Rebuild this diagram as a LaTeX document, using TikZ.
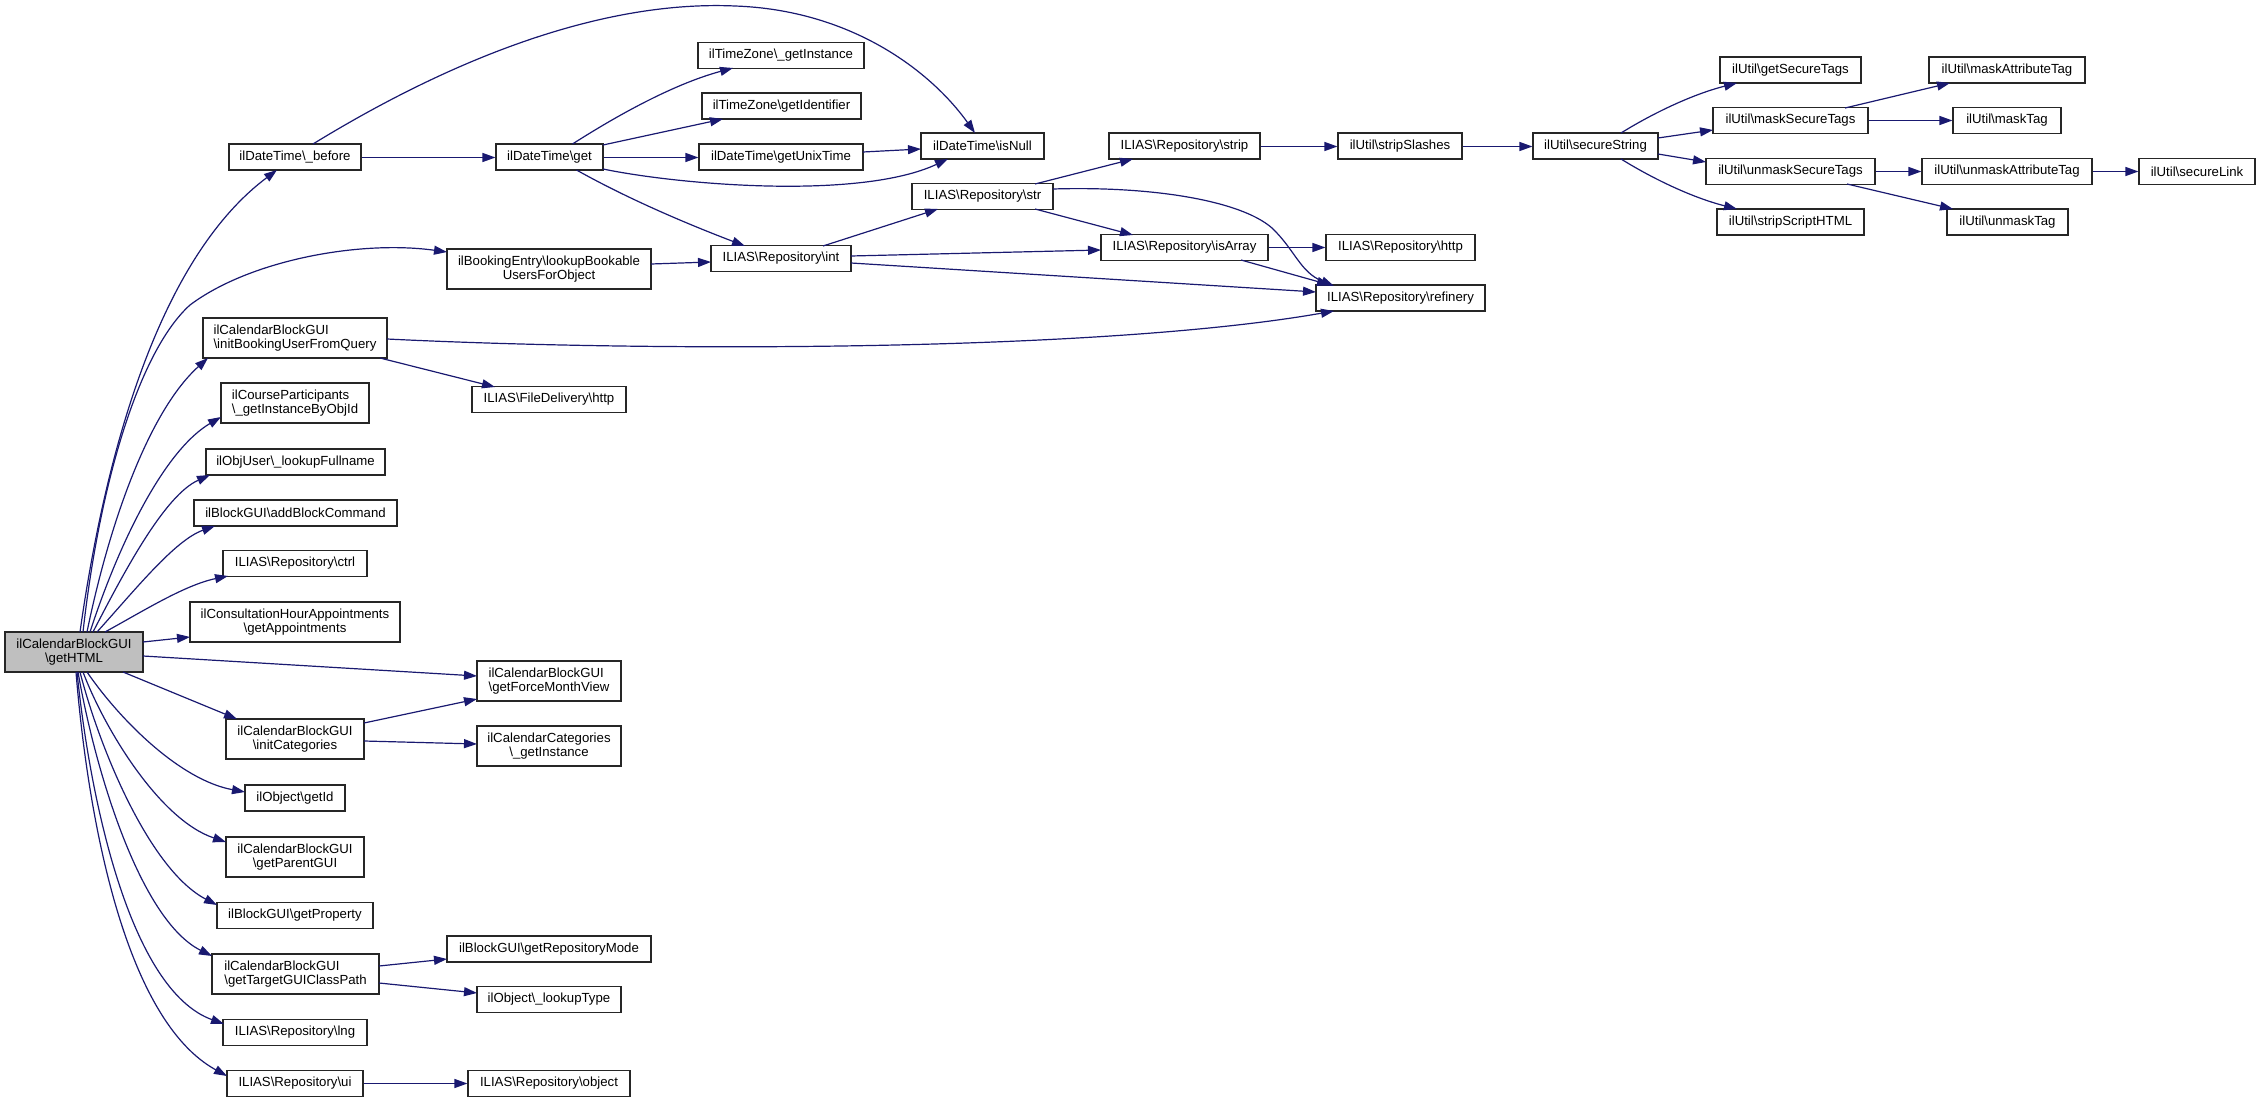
\documentclass[tikz,border=0pt]{standalone}
\usepackage{fontspec}
\setmainfont{Liberation Sans}
\usetikzlibrary{arrows.meta}
\definecolor{edgec}{HTML}{191970}
\definecolor{rootfill}{HTML}{BFBFBF}
\def\mybs{\textbackslash{}}
\begin{document}
\begin{tikzpicture}[x=1pt,y=-1pt,
  box/.style={draw=black!85, line width=1.1pt, inner sep=0pt, fill=white,
    font=\fontsize{13.2}{14}\selectfont, text=black, minimum height=26pt},
  dbl/.style={minimum height=40pt},
  edge/.style={draw=edgec, line width=1.2pt, -{Triangle[length=13pt,width=9pt]}}]
\useasboundingbox (0,0) rectangle (2260,1102);

% left column
\node[box,dbl,fill=rootfill,align=center,minimum width=138pt] (root) at (74,652) {ilCalendarBlockGUI\\\mybs getHTML};
\node[box,minimum width=132pt] (before) at (295,157) {ilDateTime\mybs\_before};
\node[box,dbl,align=left,minimum width=184pt] (initBU) at (295,338) {ilCalendarBlockGUI\\\mybs initBookingUserFromQuery};
\node[box,dbl,align=left,minimum width=148pt] (course) at (295,403) {ilCourseParticipants\\\mybs\_getInstanceByObjId};
\node[box,minimum width=179pt] (objuser) at (295.5,462) {ilObjUser\mybs\_lookupFullname};
\node[box,minimum width=203pt] (addblock) at (295.5,513) {ilBlockGUI\mybs addBlockCommand};
\node[box,minimum width=144pt] (ctrl) at (295,563.5) {ILIAS\mybs Repository\mybs ctrl};
\node[box,dbl,align=center,minimum width=210pt] (consult) at (295,622) {ilConsultationHourAppointments\\\mybs getAppointments};
\node[box,dbl,align=center,minimum width=138pt] (initcat) at (295,739) {ilCalendarBlockGUI\\\mybs initCategories};
\node[box,minimum width=100pt] (getid) at (295,798) {ilObject\mybs getId};
\node[box,dbl,align=center,minimum width=138pt] (parent) at (295,857) {ilCalendarBlockGUI\\\mybs getParentGUI};
\node[box,minimum width=156pt] (getprop) at (295,915.5) {ilBlockGUI\mybs getProperty};
\node[box,dbl,align=left,minimum width=167pt] (target) at (295.5,974) {ilCalendarBlockGUI\\\mybs getTargetGUIClassPath};
\node[box,minimum width=144pt] (lng) at (295,1032.5) {ILIAS\mybs Repository\mybs lng};
\node[box,minimum width=136pt] (ui) at (295,1083.5) {ILIAS\mybs Repository\mybs ui};

% second column
\node[box,minimum width=107pt] (dtget) at (549.5,157) {ilDateTime\mybs get};
\node[box,dbl,align=center,minimum width=204pt] (booking) at (549,269) {ilBookingEntry\mybs lookupBookable\\UsersForObject};
\node[box,minimum width=154pt] (fdhttp) at (549,399.5) {ILIAS\mybs FileDelivery\mybs http};
\node[box,dbl,align=left,minimum width=144pt] (force) at (549,681) {ilCalendarBlockGUI\\\mybs getForceMonthView};
\node[box,dbl,align=center,minimum width=144pt] (cats) at (549,746) {ilCalendarCategories\\\mybs\_getInstance};
\node[box,minimum width=204pt] (repomode) at (549,949) {ilBlockGUI\mybs getRepositoryMode};
\node[box,minimum width=144pt] (lookuptype) at (549,999.5) {ilObject\mybs\_lookupType};
\node[box,minimum width=162pt] (object) at (549,1083.5) {ILIAS\mybs Repository\mybs object};

% third column
\node[box,minimum width=166pt] (tzinst) at (781,55.5) {ilTimeZone\mybs\_getInstance};
\node[box,minimum width=159pt] (tzid) at (781.5,106) {ilTimeZone\mybs getIdentifier};
\node[box,minimum width=164pt] (unix) at (781,157) {ilDateTime\mybs getUnixTime};
\node[box,minimum width=140pt] (int) at (781,258.5) {ILIAS\mybs Repository\mybs int};

% fourth column
\node[box,minimum width=123pt] (isnull) at (982.5,146) {ilDateTime\mybs isNull};
\node[box,minimum width=141pt] (str) at (982.5,196.5) {ILIAS\mybs Repository\mybs str};

% fifth column
\node[box,minimum width=151pt] (strip) at (1184.5,146) {ILIAS\mybs Repository\mybs strip};
\node[box,minimum width=167pt] (isarray) at (1184.5,247.5) {ILIAS\mybs Repository\mybs isArray};

% sixth column
\node[box,minimum width=124pt] (stripsl) at (1400,146) {ilUtil\mybs stripSlashes};
\node[box,minimum width=149pt] (rhttp) at (1400.5,247.5) {ILIAS\mybs Repository\mybs http};
\node[box,minimum width=169pt] (refinery) at (1400.5,298) {ILIAS\mybs Repository\mybs refinery};

% seventh column
\node[box,minimum width=125pt] (secure) at (1595.5,146) {ilUtil\mybs secureString};

% eighth column
\node[box,minimum width=141pt] (gettags) at (1790.5,70) {ilUtil\mybs getSecureTags};
\node[box,minimum width=155pt] (masktags) at (1790.5,120.5) {ilUtil\mybs maskSecureTags};
\node[box,minimum width=169pt] (unmasktags) at (1790.5,171.5) {ilUtil\mybs unmaskSecureTags};
\node[box,minimum width=147pt] (stripscript) at (1790.5,222) {ilUtil\mybs stripScriptHTML};

% ninth column
\node[box,minimum width=156pt] (maskattr) at (2007,70) {ilUtil\mybs maskAttributeTag};
\node[box,minimum width=108pt] (masktag) at (2007,120.5) {ilUtil\mybs maskTag};
\node[box,minimum width=170pt] (unmaskattr) at (2007,171.5) {ilUtil\mybs unmaskAttributeTag};
\node[box,minimum width=121pt] (unmasktag) at (2007.5,222) {ilUtil\mybs unmaskTag};

% tenth column
\node[box,minimum width=116pt] (securelink) at (2197,171.5) {ilUtil\mybs secureLink};

% ---- edges from root upwards
\draw[edge] ([shift={(6,-20)}]root.center) .. controls (110,420) and (170,250) .. ([shift={(-18,13)}]before.center);
\draw[edge] ([shift={(9,-20)}]root.center) .. controls (100,480) and (140,350) .. (190,305) .. controls (250,260) and (360,240) .. ([shift={(-102,-17)}]booking.center);
\draw[edge] ([shift={(13,-20)}]root.center) .. controls (110,520) and (150,410) .. ([shift={(-87,20)}]initBU.center);
\draw[edge] ([shift={(16,-20)}]root.center) .. controls (120,540) and (165,450) .. ([shift={(-74,14)}]course.center);
\draw[edge] ([shift={(19,-20)}]root.center) .. controls (125,570) and (165,495) .. ([shift={(-85.5,13)}]objuser.center);
\draw[edge] ([shift={(23,-20)}]root.center) .. controls (135,590) and (175,540) .. ([shift={(-80.5,13)}]addblock.center);
\draw[edge] ([shift={(31,-20)}]root.center) .. controls (145,610) and (185,585) .. ([shift={(-67,12.5)}]ctrl.center);
\draw[edge] ([shift={(69,-10)}]root.center) -- ([shift={(-105,15)}]consult.center);
\draw[edge] ([shift={(69,4)}]root.center) -- ([shift={(-72,-5)}]force.center);
% ---- edges from root downwards
\draw[edge] ([shift={(49,20)}]root.center) -- ([shift={(-58,-20)}]initcat.center);
\draw[edge] ([shift={(13,20)}]root.center) .. controls (120,720) and (180,780) .. ([shift={(-50,-6)}]getid.center);
\draw[edge] ([shift={(9,20)}]root.center) .. controls (105,730) and (160,820) .. ([shift={(-69,-15)}]parent.center);
\draw[edge] ([shift={(6,20)}]root.center) .. controls (100,750) and (150,870) .. ([shift={(-78,-10.5)}]getprop.center);
\draw[edge] ([shift={(4,20)}]root.center) .. controls (95,770) and (140,920) .. ([shift={(-83.5,-18)}]target.center);
\draw[edge] ([shift={(3,20)}]root.center) .. controls (90,800) and (130,990) .. ([shift={(-71,-8.5)}]lng.center);
\draw[edge] ([shift={(2,20)}]root.center) .. controls (88,820) and (125,1020) .. ([shift={(-68,-7.5)}]ui.center);

% ---- second level
\draw[edge] ([yshift=-0.5pt]before.east) -- ([yshift=-0.5pt]dtget.west);
\draw[edge] ([shift={(18,-13)}]before.center) .. controls (450,60) and (600,0) .. (735,6) .. controls (850,10) and (930,70) .. ([shift={(-7.5,-13)}]isnull.center);
\draw[edge] ([shift={(23,-13)}]dtget.center) .. controls (610,120) and (670,85) .. ([shift={(-48,12.5)}]tzinst.center);
\draw[edge] ([shift={(53.5,-12)}]dtget.center) -- ([shift={(-58.5,13)}]tzid.center);
\draw[edge] ([yshift=-0.5pt]dtget.east) -- ([yshift=-0.5pt]unix.west);
\draw[edge] ([shift={(53.5,12)}]dtget.center) .. controls (680,185) and (860,200) .. ([shift={(-34.5,13)}]isnull.center);
\draw[edge] ([shift={(27,13)}]dtget.center) .. controls (630,200) and (690,225) .. ([shift={(-36,-12.5)}]int.center);
\draw[edge] ([shift={(82,-5)}]unix.center) -- ([shift={(-61.5,3)}]isnull.center);
\draw[edge] ([shift={(102,-5)}]booking.center) -- ([shift={(-70,3.5)}]int.center);
\draw[edge] ([shift={(92,1)}]initBU.center) .. controls (650,352) and (1100,352) .. ([shift={(-66.5,13)}]refinery.center);
\draw[edge] ([shift={(85,20)}]initBU.center) -- ([shift={(-54,-12.5)}]fdhttp.center);
\draw[edge] ([shift={(42,-12.5)}]int.center) -- ([shift={(-44.5,12.5)}]str.center);
\draw[edge] ([shift={(70,-2.5)}]int.center) -- ([shift={(-83.5,2.5)}]isarray.center);
\draw[edge] ([shift={(70,4.5)}]int.center) -- ([shift={(-84.5,-6)}]refinery.center);
\draw[edge] ([shift={(52.5,-12.5)}]str.center) -- ([shift={(-51.5,13)}]strip.center);
\draw[edge] ([shift={(52.5,12.5)}]str.center) -- ([shift={(-51.5,-12.5)}]isarray.center);
\draw[edge] ([shift={(70.5,-7.5)}]str.center) .. controls (1150,186) and (1240,200) .. (1272,228) .. controls (1295,250) and (1300,272) .. ([shift={(-66.5,-12)}]refinery.center);
\draw[edge] (isarray.east) -- (rhttp.west);
\draw[edge] ([shift={(56.5,12.5)}]isarray.center) -- ([shift={(-70.5,-13)}]refinery.center);
\draw[edge] ([yshift=-0.5pt]strip.east) -- ([yshift=-0.5pt]stripsl.west);
\draw[edge] ([yshift=-0.5pt]stripsl.east) -- ([yshift=-0.5pt]secure.west);
\draw[edge] ([shift={(25.5,-13)}]secure.center) .. controls (1650,115) and (1690,95) .. ([shift={(-53.5,13)}]gettags.center);
\draw[edge] ([shift={(62.5,-8)}]secure.center) -- ([shift={(-77.5,9.5)}]masktags.center);
\draw[edge] ([shift={(62.5,8)}]secure.center) -- ([shift={(-84.5,-9.5)}]unmasktags.center);
\draw[edge] ([shift={(25.5,13)}]secure.center) .. controls (1650,177) and (1690,197) .. ([shift={(-53.5,-13)}]stripscript.center);
\draw[edge] ([shift={(54.5,-12.5)}]masktags.center) -- ([shift={(-57,13)}]maskattr.center);
\draw[edge] (masktags.east) -- (masktag.west);
\draw[edge] (unmasktags.east) -- (unmaskattr.west);
\draw[edge] ([shift={(56.5,12.5)}]unmasktags.center) -- ([shift={(-54.5,-13)}]unmasktag.center);
\draw[edge] (unmaskattr.east) -- (securelink.west);
\draw[edge] ([shift={(83.5,-8)}]target.center) -- ([shift={(-102,10)}]repomode.center);
\draw[edge] ([shift={(83.5,9)}]target.center) -- ([shift={(-72,-6.5)}]lookuptype.center);
\draw[edge] ([shift={(69,-16)}]initcat.center) -- ([shift={(-72,18)}]force.center);
\draw[edge] ([shift={(69,2)}]initcat.center) -- ([shift={(-72,-2)}]cats.center);
\draw[edge] (ui.east) -- (object.west);
\end{tikzpicture}
\end{document}
